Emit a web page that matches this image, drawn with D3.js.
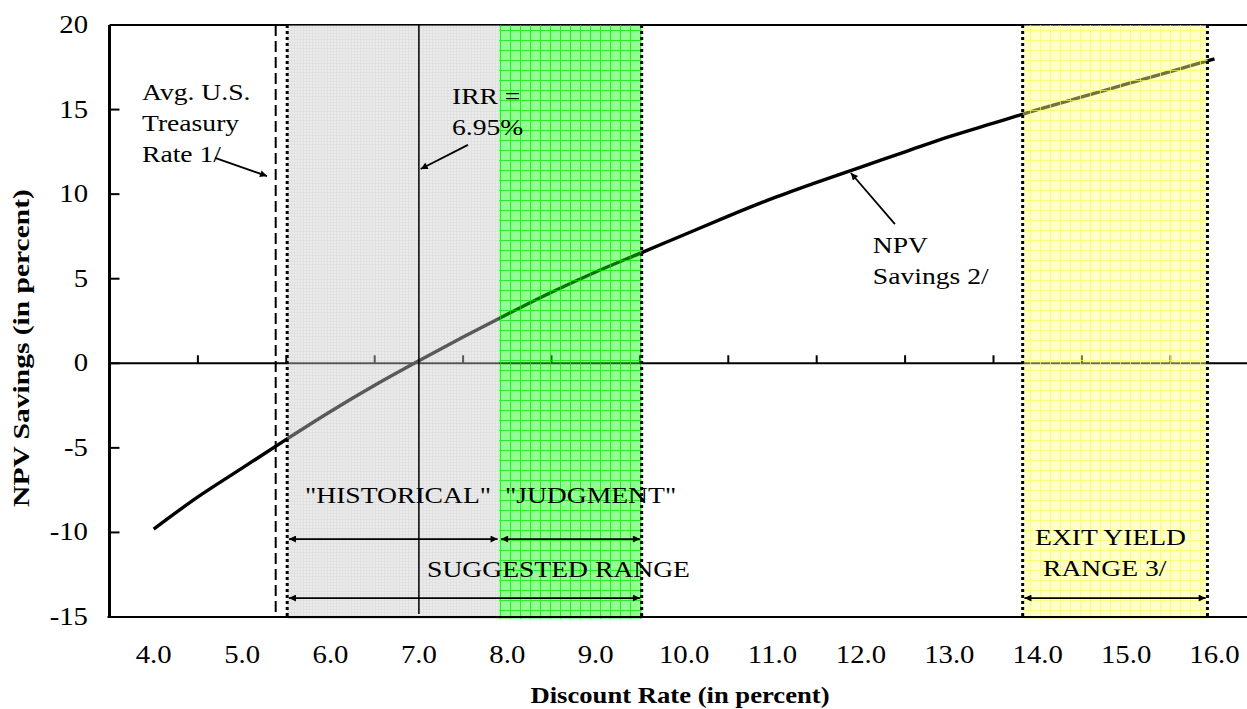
<!DOCTYPE html>
<html><head><meta charset="utf-8">
<script src="https://cdn.jsdelivr.net/npm/d3@7"></script>
<style>html,body{margin:0;padding:0;background:#fff;} svg{display:block;}</style>
</head><body>
<svg id="chart" width="1247" height="709"></svg>
<script>
// ---- data ----
const rates      = [4.0, 4.5, 5.0, 5.5, 6.0, 6.5, 7.0, 7.5, 8.0, 8.5, 9.0, 9.5, 10.0, 10.5, 11.0, 11.5, 12.0, 12.5, 13.0, 13.5, 14.0, 14.5, 15.0, 15.5, 16.0];
const npvSavings = [-9.8, -7.9, -6.2, -4.5, -2.85, -1.3, 0.15, 1.55, 2.9, 4.2, 5.4, 6.5, 7.6, 8.7, 9.75, 10.7, 11.6, 12.5, 13.4, 14.2, 15.0, 15.75, 16.5, 17.25, 18.0];
const xTickValues = [4, 5, 6, 7, 8, 9, 10, 11, 12, 13, 14, 15, 16];
const xTickLabels = ["4.0", "5.0", "6.0", "7.0", "8.0", "9.0", "10.0", "11.0", "12.0", "13.0", "14.0", "15.0", "16.0"];
const xMinorTicks = [4.5, 5.5, 6.5, 7.5, 8.5, 9.5, 10.5, 11.5, 12.5, 13.5, 14.5, 15.5];
const yTickValues = [-15, -10, -5, 0, 5, 10, 15, 20];
const treasuryRate = 5.38;
const historicalRange = [5.51, 7.91];
const judgmentRange = [7.91, 9.52];
const exitYieldRange = [13.83, 15.92];
const irrLinePos = 7.0;
const treasuryLabel = ["Avg. U.S.", "Treasury", "Rate 1/"];
const irrLabel = ["IRR =", "6.95%"];
const npvLabel = ["NPV", "Savings 2/"];
const exitLabel = ["EXIT YIELD", "RANGE 3/"];
const xTitle = "Discount Rate (in percent)";
const yTitle = "NPV Savings (in percent)";

// ---- scales ----
const svg = d3.select("#chart");
const x = d3.scaleLinear().domain([3.5, 16.5]).range([109.5, 1258.7]);
const y = d3.scaleLinear().domain([-15, 20]).range([617, 25]);
const FONT = "'Liberation Serif','Times New Roman',serif";
const SX = 1.15;

svg.append("rect").attr("width", 1247).attr("height", 709).attr("fill", "#fff");

// patterns
const defs = svg.append("defs");
function gridPattern(id, size, bg, line, lw) {
  const p = defs.append("pattern").attr("id", id).attr("patternUnits", "userSpaceOnUse")
    .attr("width", size).attr("height", size);
  if (bg) p.append("rect").attr("width", size).attr("height", size).attr("fill", bg);
  p.append("path").attr("d", `M0,0.5H${size}M0.5,0V${size}`).attr("stroke", line).attr("stroke-width", lw).attr("fill", "none");
}
gridPattern("pGrey", 3, "#d2d2d2", "#bdbdbd", 1);
gridPattern("pGreen", 10, "#10ff10", "#00c800", 1);
gridPattern("pYellow", 10, "#ffff88", "#f0f020", 1);
gridPattern("gGreen", 10, null, "#00ee00", 1);
gridPattern("gYellow", 10, null, "#ffff70", 1);

defs.append("marker").attr("id", "ah").attr("viewBox", "0 0 10 10").attr("refX", 10).attr("refY", 5)
  .attr("markerWidth", 9).attr("markerHeight", 7).attr("markerUnits", "userSpaceOnUse").attr("orient", "auto-start-reverse")
  .append("path").attr("d", "M0,0L10,5L0,10Z").attr("fill", "#000");

// frame under bands
svg.append("line").attr("x1", x(3.5)).attr("x2", 1247).attr("y1", y(20)).attr("y2", y(20)).attr("stroke", "#000").attr("stroke-width", 2);
svg.append("line").attr("x1", x(3.5)).attr("x2", 1247).attr("y1", y(0)).attr("y2", y(0)).attr("stroke", "#000").attr("stroke-width", 2);
svg.selectAll(".mt").data(xMinorTicks).join("line")
  .attr("x1", d => x(d)).attr("x2", d => x(d)).attr("y1", y(0)).attr("y2", y(0) - 8)
  .attr("stroke", "#000").attr("stroke-width", 2);

// curve
const lineGen = d3.line().x((d, i) => x(rates[i])).y(d => y(d)).curve(d3.curveMonotoneX);
svg.append("path").datum(npvSavings).attr("d", lineGen).attr("fill", "none").attr("stroke", "#000").attr("stroke-width", 3.4);

// bands (semi-transparent over curve)
const bands = [
  {r: historicalRange, fill: "url(#pGrey)", grid: null},
  {r: judgmentRange, fill: "url(#pGreen)", grid: "url(#gGreen)"},
  {r: exitYieldRange, fill: "url(#pYellow)", grid: "url(#gYellow)"}
];
svg.selectAll(".band").data(bands).join("rect")
  .attr("x", d => x(d.r[0])).attr("width", d => x(d.r[1]) - x(d.r[0]))
  .attr("y", y(20)).attr("height", y(-15) - y(20) + 2)
  .attr("fill", d => d.fill).attr("opacity", 0.45);
svg.selectAll(".bandgrid").data(bands.filter(d => d.grid)).join("rect")
  .attr("x", d => x(d.r[0])).attr("width", d => x(d.r[1]) - x(d.r[0]))
  .attr("y", y(20)).attr("height", y(-15) - y(20) + 2)
  .attr("fill", d => d.grid).attr("opacity", 0.7);

// bottom axis and left axis
svg.append("line").attr("x1", x(3.5) - 2).attr("x2", 1247).attr("y1", y(-15)).attr("y2", y(-15)).attr("stroke", "#000").attr("stroke-width", 2);
svg.append("line").attr("x1", x(3.5)).attr("x2", x(3.5)).attr("y1", y(20)).attr("y2", y(-15)).attr("stroke", "#000").attr("stroke-width", 3);
svg.selectAll(".yt").data(yTickValues.filter(v => v > -15 && v < 20)).join("line")
  .attr("x1", x(3.5)).attr("x2", x(3.5) + 10).attr("y1", d => y(d)).attr("y2", d => y(d))
  .attr("stroke", "#000").attr("stroke-width", 2);

// vertical reference lines
svg.append("line").attr("x1", x(treasuryRate)).attr("x2", x(treasuryRate)).attr("y1", y(20)).attr("y2", y(-15))
  .attr("stroke", "#000").attr("stroke-width", 2).attr("stroke-dasharray", "11,5");
svg.append("line").attr("x1", x(irrLinePos)).attr("x2", x(irrLinePos)).attr("y1", y(20)).attr("y2", y(-15) - 3)
  .attr("stroke", "#000").attr("stroke-width", 1.5);
const dotted = [historicalRange[0], judgmentRange[1], exitYieldRange[0], exitYieldRange[1]];
svg.selectAll(".dl").data(dotted).join("line")
  .attr("x1", d => x(d)).attr("x2", d => x(d)).attr("y1", y(20)).attr("y2", y(-15) + 1)
  .attr("stroke", "#000").attr("stroke-width", 3).attr("stroke-dasharray", "3,3");

// text helper
function txt(px, py, s, o = {}) {
  return svg.append("text")
    .attr("transform", `translate(${px},${py})` + (o.rot ? ` rotate(${o.rot})` : "") + ` scale(${o.sx || SX},1)`)
    .attr("font-family", FONT).attr("font-size", o.size || 24)
    .attr("font-weight", o.bold ? "bold" : "normal")
    .attr("text-anchor", o.anchor || "start").attr("fill", "#000").text(s);
}

// tick labels
xTickValues.forEach((v, i) => txt(x(v), 663, xTickLabels[i], {anchor: "middle", size: 25}));
yTickValues.forEach(v => txt(88, y(v) + 8, String(v), {anchor: "end", size: 25}));

// titles
txt(680, 703, xTitle, {bold: true, anchor: "middle", sx: 1.11});
txt(29, 348, yTitle, {bold: true, anchor: "middle", rot: -90, sx: 1.23});

// annotations
function arrow(x1, y1, x2, y2, both) {
  const l = svg.append("line").attr("x1", x(x1)).attr("y1", y(y1)).attr("x2", x(x2)).attr("y2", y(y2))
    .attr("stroke", "#000").attr("stroke-width", 1.8).attr("marker-end", "url(#ah)");
  if (both) l.attr("marker-start", "url(#ah)");
}
treasuryLabel.forEach((s, i) => txt(x(3.868), y(15.57) + i * 31, s));
arrow(4.693, 12.14, 5.282, 11.07);
irrLabel.forEach((s, i) => txt(x(7.374), y(15.34) + i * 31, s));
arrow(7.555, 12.91, 7.02, 11.49);
npvLabel.forEach((s, i) => txt(x(12.135), y(6.52) + i * 31, s));
arrow(12.385, 8.23, 11.887, 11.25);

txt(x(5.711), y(-8.26), "\"HISTORICAL\"");
txt(x(7.973), y(-8.26), "\"JUDGMENT\"");
arrow(historicalRange[0] + 0.02, -10.39, historicalRange[1] - 0.02, -10.39, true);
arrow(judgmentRange[0] + 0.02, -10.39, judgmentRange[1] - 0.02, -10.39, true);
txt(x(7.092), y(-12.64), "SUGGESTED RANGE");
arrow(historicalRange[0] + 0.02, -13.88, judgmentRange[1] - 0.02, -13.88, true);
txt(x(13.97), y(-10.74), exitLabel[0]);
txt(x(14.06), y(-12.58), exitLabel[1]);
arrow(exitYieldRange[0] + 0.02, -13.88, exitYieldRange[1] - 0.02, -13.88, true);
</script>
</body></html>
